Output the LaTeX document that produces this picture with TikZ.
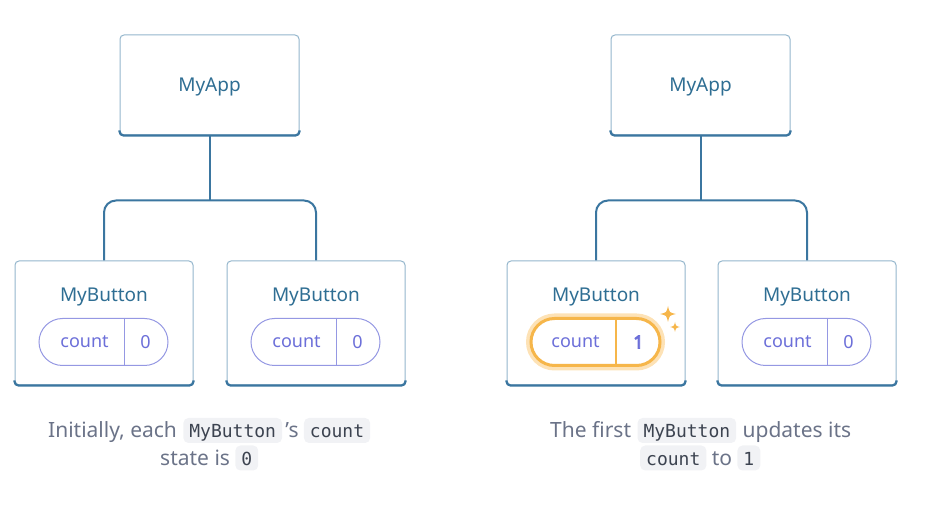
\documentclass[tikz,border=0pt]{standalone}
\usepackage{fontspec}
\setmainfont{Noto Sans}
\setmonofont{DejaVu Sans Mono}
\newfontfamily\heavynum{Noto Sans}[FakeBold=5]
\usetikzlibrary{positioning,shapes.misc}

\definecolor{boxedge}{HTML}{94B6CC}
\definecolor{treeline}{HTML}{3B76A0}
\definecolor{labelblue}{HTML}{2F6E93}
\definecolor{pillpurple}{HTML}{9598E3}
\definecolor{counttext}{HTML}{6C6FD9}
\definecolor{glow}{HTML}{F6B64A}
\definecolor{glowsoft}{HTML}{FDE2B6}
\definecolor{captext}{HTML}{6B7388}
\definecolor{chipbg}{HTML}{F1F2F5}
\definecolor{chiptext}{HTML}{3C4350}

\tikzset{
  comp/.style={draw=boxedge, line width=1pt, rounded corners=4pt, text=labelblue},
  appbox/.style={comp, minimum width=179pt, minimum height=100pt, text height=14pt, text depth=0pt,
    font=\fontsize{19}{19}\selectfont},
  btnbox/.style={comp, minimum width=178pt, minimum height=124pt},
  btnlabel/.style={text=labelblue, font=\fontsize{19}{19}\selectfont, inner sep=0pt,
    text height=14pt, text depth=0pt},
  baseedge/.style={draw=treeline, line width=2.2pt, rounded corners=4pt},
  link/.style={draw=treeline, line width=2pt, rounded corners=12pt},
  pill/.style={rounded rectangle, draw=pillpurple, line width=1pt, fill=white,
    minimum height=47pt, minimum width=129pt, inner sep=0pt},
  pilltext/.style={text=counttext, font=\fontsize{18}{18}\selectfont, inner sep=0pt},
  pillsplit/.style={draw=pillpurple, line width=1pt},
  hot/.style={draw=glow, line width=3pt, preaction={draw=glowsoft, line width=10pt}},
  hotsplit/.style={draw=glow, line width=2pt},
  sparkle/.pic={
    \fill[glow] (0,-1) .. controls (0.18,-0.18) .. (1,0) .. controls (0.18,0.18) .. (0,1)
      .. controls (-0.18,0.18) .. (-1,0) .. controls (-0.18,-0.18) .. (0,-1) -- cycle;
  },
  captpart/.style={text=captext, font=\fontsize{21}{21}\selectfont, inner xsep=0pt,
    inner ysep=2pt, text height=18pt, text depth=3pt},
  chip/.style={fill=chipbg, rounded corners=5pt, text=chiptext, font=\ttfamily\fontsize{18}{18}\selectfont,
    inner xsep=6pt, inner ysep=2pt, text height=18pt, text depth=3pt}
}

\begin{document}
\begin{tikzpicture}[x=1pt, y=-1pt]
  \useasboundingbox (0,0) rectangle (930,510);

  % left tree: initial state
  \node[appbox] (app1) at (209.5,85) {MyApp};
  \node[btnbox, below=125pt of app1, xshift=-105.5pt] (btn1) {};
  \node[btnbox, below=125pt of app1, xshift=106.5pt] (btn2) {};
  \coordinate[below=65pt of app1.south] (fork1);
  \draw[link] (app1.south) -- (fork1);
  \draw[link] (btn1.north) -- (btn1.north |- fork1) -- (btn2.north |- fork1) -- (btn2.north);

  % right tree: after first click
  \node[appbox] (app2) at (700.5,85) {MyApp};
  \node[btnbox, below=125pt of app2, xshift=-104.5pt] (btn3) {};
  \node[btnbox, below=125pt of app2, xshift=106.5pt] (btn4) {};
  \coordinate[below=65pt of app2.south] (fork2);
  \draw[link] (app2.south) -- (fork2);
  \draw[link] (btn3.north) -- (btn3.north |- fork2) -- (btn4.north |- fork2) -- (btn4.north);

  \foreach \n in {app1,btn1,btn2,app2,btn3,btn4}
    \draw[baseedge] ([yshift=5pt]\n.south west) -- (\n.south west) -- (\n.south east) -- ([yshift=5pt]\n.south east);

  % button labels and state pills
  \foreach \n in {btn1,btn2,btn3,btn4}
    \node[btnlabel] (\n-name) at ([yshift=-34pt]\n.north) {MyButton};

  \foreach \n/\v in {btn1/0, btn2/0, btn4/0} {
    \node[pill] (\n-pill) at ([xshift=-0.5pt,yshift=-81.5pt]\n.north) {};
    \node[pilltext] (\n-count) at ([xshift=46pt]\n-pill.west) {count};
    \node[pilltext] (\n-value) at ([xshift=-23pt]\n-pill.east) {\v};
    \draw[pillsplit] ([xshift=20.5pt]\n-pill.north) -- ([xshift=20.5pt]\n-pill.south);
  }
  \node[pill, hot] (btn3-pill) at ([xshift=-0.5pt,yshift=-81.5pt]btn3.north) {};
  \node[pilltext] (btn3-count) at ([xshift=46pt]btn3-pill.west) {count};
  \node[pilltext] (btn3-value) at ([xshift=-23pt]btn3-pill.east) {\heavynum 1};
  \draw[hotsplit] ([xshift=20.5pt]btn3-pill.north) -- ([xshift=20.5pt]btn3-pill.south);
  \pic[scale=8] at (668,314) {sparkle};
  \pic[scale=5] at (675,327) {sparkle};

  % captions
  \node[captpart, anchor=west] (l1a) at (48,430.5) {Initially, each};
  \node[chip, right=6pt of l1a] (l1b) {MyButton};
  \node[captpart, right=3pt of l1b] (l1c) {’s};
  \node[chip, right=5pt of l1c] (l1d) {count};
  \node[captpart, anchor=west] (l2a) at (160,458) {state is};
  \node[chip, right=5pt of l2a] (l2b) {0};

  \node[captpart, anchor=west] (r1a) at (550,430.5) {The first};
  \node[chip, right=6pt of r1a] (r1b) {MyButton};
  \node[captpart, right=6pt of r1b] (r1c) {updates its};
  \node[chip, anchor=west] (r2a) at (640,458) {count};
  \node[captpart, right=5pt of r2a] (r2b) {to};
  \node[chip, right=5pt of r2b] (r2c) {1};
\end{tikzpicture}
\end{document}
